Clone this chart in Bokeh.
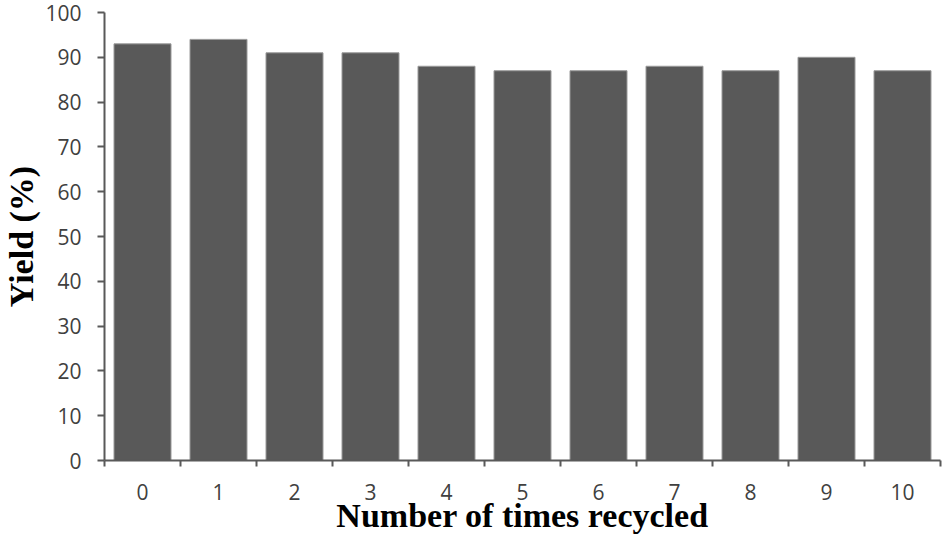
from bokeh.plotting import figure
from bokeh.models import FixedTicker, Range1d, ColumnDataSource
from bokeh.embed import file_html
from bokeh.resources import INLINE

cycles = list(range(11))
cycle_labels = [str(c) for c in cycles]
yields = [93, 94, 91, 91, 88, 87, 87, 88, 87, 90, 87]
y_ticks = [0, 10, 20, 30, 40, 50, 60, 70, 80, 90, 100]

src = ColumnDataSource(dict(x=cycles, y=yields))

p = figure(width=942, height=549, output_backend="svg", toolbar_location=None,
           x_range=Range1d(-0.5, 10.5), y_range=Range1d(0, 100),
           min_border_left=95, min_border_right=2, min_border_top=12, min_border_bottom=89)

p.vbar(x="x", top="y", width=0.75, source=src, fill_color="#595959",
       line_color="#9a9a9a", line_width=1)

p.grid.visible = False
p.outline_line_color = None

ax = p.xaxis[0]
ax.ticker = FixedTicker(ticks=cycles, minor_ticks=[c - 0.5 for c in cycles] + [10.5])
ax.major_label_overrides = {c: l for c, l in zip(cycles, cycle_labels)}
ax.major_tick_out = 0
ax.major_tick_in = 0
ax.minor_tick_out = 6
ax.minor_tick_in = 0
ax.major_label_standoff = 17
ax.axis_label = "Number of times recycled"
ax.axis_label_standoff = -6

ay = p.yaxis[0]
ay.ticker = FixedTicker(ticks=y_ticks)
ay.major_tick_out = 7
ay.major_tick_in = 0
ay.minor_tick_out = 0
ay.minor_tick_in = 0
ay.major_label_standoff = 16
ay.axis_label = "Yield (%)"
ay.axis_label_standoff = 2

for a in (ax, ay):
    a.axis_line_color = "#595959"
    a.axis_line_width = 2
    a.major_tick_line_color = "#595959"
    a.major_tick_line_width = 2
    a.minor_tick_line_color = "#595959"
    a.minor_tick_line_width = 2
    a.major_label_text_font = "Open Sans"
    a.major_label_text_font_size = "21px"
    a.major_label_text_color = "#404040"
    a.axis_label_text_font = "Liberation Serif"
    a.axis_label_text_font_style = "bold"
    a.axis_label_text_font_size = "34px"
    a.axis_label_text_color = "#000000"

open("out.html", "w").write(file_html(p, INLINE))
